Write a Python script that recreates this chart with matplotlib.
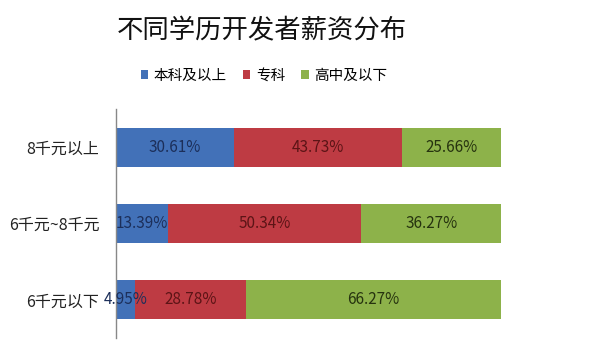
import matplotlib
matplotlib.use("Agg")
from matplotlib import pyplot as plt
from matplotlib.patches import Patch

plt.rcParams['font.family'] = ['Noto Sans CJK SC', 'DejaVu Sans']

categories = ["6千元以下", "6千元~8千元", "8千元以上"]   # bottom to top
series_names = ["本科及以上", "专科", "高中及以下"]
bachelor = [4.95, 13.39, 30.61]
college = [28.78, 50.34, 43.73]
highschool = [66.27, 36.27, 25.66]

colors = ["#4271B8", "#BE3B43", "#8DB24A"]
text_colors = ["#1c2f5a", "#5c1416", "#26330f"]

fig = plt.figure(figsize=(5.94, 3.54), dpi=100)
ax = fig.add_axes([116 / 594, 1 - 338 / 354, 385 / 594, 229 / 354])

y = range(len(categories))
left = [0.0] * len(categories)
for vals, col, tcol in zip([bachelor, college, highschool], colors, text_colors):
    bars = ax.barh(y, vals, left=left, height=0.51, color=col, edgecolor="none")
    for i, v in enumerate(vals):
        ax.text(left[i] + v / 2, i, f"{v:.2f}%", ha="center", va="center",
                fontsize=11, color=tcol)
    left = [l + v for l, v in zip(left, vals)]

ax.set_xlim(0, 100)
ax.set_ylim(-0.5, 2.5)
ax.set_yticks(list(y))
ax.set_yticklabels(categories, fontsize=11.5, color="#222222")
ax.tick_params(axis="y", length=0, pad=12)
ax.set_xticks([])
for s in ["top", "right", "bottom"]:
    ax.spines[s].set_visible(False)
ax.spines["left"].set_color("#888888")
ax.spines["left"].set_linewidth(1.0)

fig.text(262 / 594, 1 - 31 / 354, "不同学历开发者薪资分布", ha="center", va="center",
         fontsize=19, fontweight="medium", color="#111111")

handles = [Patch(facecolor=c, edgecolor="none") for c in colors]
fig.legend(handles, series_names, loc="center", bbox_to_anchor=(264 / 594, 1 - 76 / 354),
           ncol=3, frameon=False, fontsize=10.5, handlelength=0.5, handleheight=0.6,
           handletextpad=0.4, columnspacing=1.1)

fig.savefig("out.png", dpi=100)
